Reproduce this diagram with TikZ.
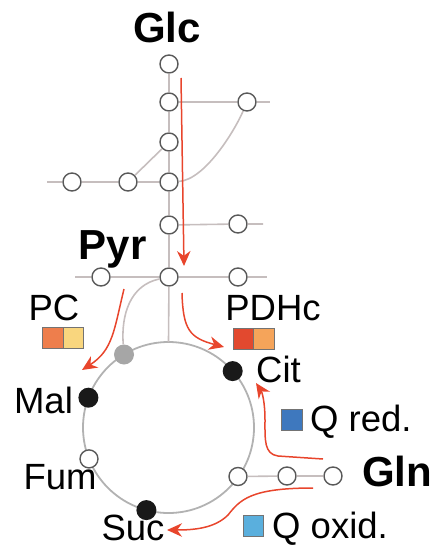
\documentclass[tikz,border=0pt]{standalone}
\usepackage{fontspec}
\setmainfont{Liberation Sans}
\usetikzlibrary{arrows.meta}
\definecolor{lgray}{HTML}{C6BEBE}
\definecolor{rgray}{HTML}{B2B2B2}
\definecolor{ored}{HTML}{E8452C}
\definecolor{pcA}{HTML}{EE7E4C}
\definecolor{pcB}{HTML}{F9D67E}
\definecolor{pdA}{HTML}{E2492F}
\definecolor{pdB}{HTML}{F5A45A}
\definecolor{qrd}{HTML}{3E78BE}
\definecolor{qox}{HTML}{5AAFDD}
\begin{document}
\begin{tikzpicture}[x=1pt,y=-1pt,
  opn/.style={circle,draw=black!65,line width=1.4pt,fill=white,minimum size=18pt,inner sep=0pt},
  blk/.style={circle,fill=black!90,minimum size=20pt,inner sep=0pt},
  gdot/.style={circle,fill=black!35,minimum size=20pt,inner sep=0pt},
  link/.style={draw=lgray,line width=1.6pt},
  flow/.style={draw=ored,line width=1.5pt,-{Stealth[length=15pt,width=13.5pt]}},
  lbl/.style={font=\fontsize{36.5}{40}\selectfont,inner sep=0pt},
  big/.style={font=\fontsize{42}{46}\selectfont\bfseries,inner sep=0pt},
  sq/.style={draw=black!55,line width=0.8pt,minimum size=20.5pt,inner sep=0pt}]
\useasboundingbox (0,0) rectangle (435,548);

% TCA ring
\draw[rgray,line width=1.8pt] (168.5,427.5) circle[radius=85.5];
\coordinate (top) at (168.5,342);

% glycolysis chain
\node[opn] (c1) at (169,64) {};
\node[opn] (c2) at (169,102) {};
\node[opn] (c3) at (169,142) {};
\node[opn] (c4) at (169,182) {};
\node[opn] (c5) at (169,225) {};
\node[opn] (c6) at (169,277) {};
\node[opn] (r1) at (247,102) {};
\node[opn] (l1) at (72,182) {};
\node[opn] (l2) at (128,182) {};
\node[opn] (r5) at (238,224) {};
\node[opn] (l6) at (101,277) {};
\node[opn] (r6) at (238,277) {};
\coordinate (r1e) at (270,102);
\coordinate (l4e) at (47,182);
\coordinate (r5e) at (263,224);
\coordinate (l6e) at (75,277);
\coordinate (r6e) at (267,277);

\draw[link] (c1) -- (c2) -- (c3) -- (c4) -- (c5) -- (c6) -- (top);
\draw[link] (c2) -- (r1) -- (r1e);
\draw[link] (l4e) -- (l1) -- (l2) -- (c4);
\draw[link] (l2) -- (c3);
\draw[link] (c4) .. controls (205,180) and (235,130) .. (r1);
\draw[link] (c5) -- (r5) -- (r5e);
\draw[link] (l6e) -- (l6) -- (c6) -- (r6) -- (r6e);

% ring metabolites
\node[gdot] (g) at (124,354.5) {};
\node[blk] (mal) at (88.4,397.7) {};
\node[opn] (fum) at (89,458.9) {};
\node[blk] (suc) at (146.4,510.1) {};
\node[blk] (cit) at (232.7,371.1) {};
\node[opn] (q1) at (238,476.5) {};
\node[opn] (q2) at (287,476) {};
\node[opn] (q3) at (333,476) {};
\draw[link] (q1) -- (q2) -- (q3);
\draw[link] (c6) .. controls (130,285) and (121,315) .. (g);

% labels
\node[big,anchor=base] (glc) at (167,43) {Glc};
\node[big,anchor=base] (pyr) at (112.5,259) {Pyr};
\node[big,anchor=base west] (gln) at (362,486) {Gln};
\node[lbl,anchor=base] (pc) at (54,320) {PC};
\node[lbl,anchor=base] (pdhc) at (273,320) {PDHc};
\node[lbl,anchor=base west] (citl) at (256,382) {Cit};
\node[lbl,anchor=base] (mall) at (43.5,413) {Mal};
\node[lbl,anchor=base] (fuml) at (60,489) {Fum};
\node[lbl,anchor=base] (sucl) at (133,540) {Suc};
\node[lbl,anchor=base west] (qredl) at (310,431) {Q red.};
\node[lbl,anchor=base west] (qoxl) at (272,538) {Q oxid.};

% squares
\node[sq,fill=pcA] (pc1) at (53,338) {};
\node[sq,fill=pcB] (pc2) at (73.5,338) {};
\node[sq,fill=pdA] (pd1) at (243.5,339) {};
\node[sq,fill=pdB] (pd2) at (264,339) {};
\node[sq,fill=qrd] (qr) at (292,420) {};
\node[sq,fill=qox] (qo) at (253.5,526) {};

% red flux arrows
\coordinate (a1s) at (181,78);
\coordinate (a1e) at (184,266);
\coordinate (a2s) at (124,289);
\coordinate (a2e) at (82,370);
\coordinate (a3s) at (182,293);
\coordinate (a3e) at (224,347);
\coordinate (a4s) at (323,459);
\coordinate (a4e) at (256,383);
\coordinate (a5s) at (313,488);
\coordinate (a5e) at (167,530);
\draw[flow] (a1s) -- (a1e);
\draw[flow] (a2s) .. controls (114,330) and (113,350) .. (a2e);
\draw[flow] (a3s) .. controls (183,330) and (190,338) .. (a3e);
\draw[flow] (a4s) -- (278,456) .. controls (264,454) and (265,440) .. (265,420) .. controls (265,402) and (262,392) .. (a4e);
\draw[flow] (a5s) .. controls (250,488) and (240,500) .. (228,515) .. controls (215,528) and (195,530) .. (a5e);
\end{tikzpicture}
\end{document}
